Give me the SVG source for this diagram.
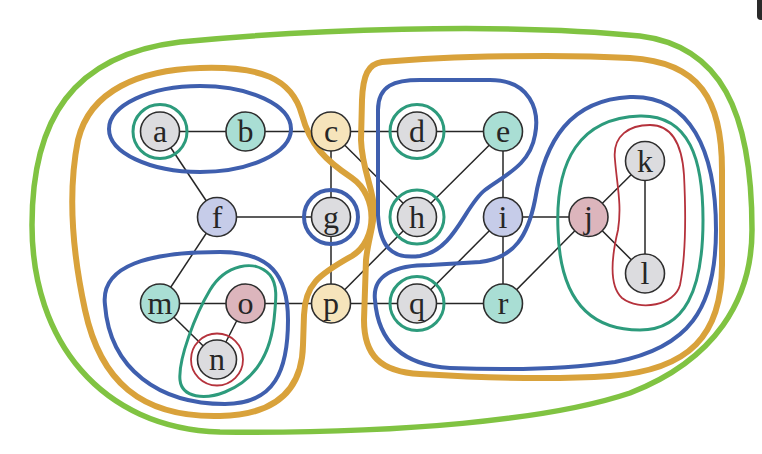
<svg xmlns="http://www.w3.org/2000/svg" width="762" height="454" viewBox="0 0 762 454">
<style>
.edge{stroke:#262626;stroke-width:1.5;fill:none}
.node circle{stroke:#2e2e2e;stroke-width:1.6}
.node text{font-family:"Liberation Serif","Times New Roman",serif;font-size:32px;fill:#262626;text-anchor:middle}
.gray{fill:#dcdcdf}.teal{fill:#a9ded4}.peach{fill:#f6e4bb}.lav{fill:#c6cce9}.pink{fill:#dcb5bc}
.hg{fill:none;stroke:#80c342;stroke-width:5.5}
.ho{fill:none;stroke:#d9a23b;stroke-width:6}
.hb{fill:none;stroke:#3f5fae;stroke-width:4}
.ht{fill:none;stroke:#2d9b7c;stroke-width:3}
.hr{fill:none;stroke:#b5323c;stroke-width:1.8}
</style>
<rect width="762" height="454" fill="#ffffff"/>
<path d="M762,0 V20 H761 Q757,20 757,16 V0 Z" fill="#2a2a2a"/>
<g id="connectors">
<line class="edge" x1="160" y1="131.5" x2="245.5" y2="131.5"/>
<line class="edge" x1="245.5" y1="131.5" x2="331" y2="131.5"/>
<line class="edge" x1="331" y1="131.5" x2="417" y2="131.5"/>
<line class="edge" x1="417" y1="131.5" x2="503" y2="131.5"/>
<line class="edge" x1="160" y1="131.5" x2="217" y2="217"/>
<line class="edge" x1="217" y1="217" x2="331" y2="217"/>
<line class="edge" x1="331" y1="131.5" x2="331" y2="217"/>
<line class="edge" x1="331" y1="131.5" x2="417" y2="217"/>
<line class="edge" x1="331" y1="217" x2="331" y2="303.5"/>
<line class="edge" x1="331" y1="303.5" x2="417" y2="217"/>
<line class="edge" x1="503" y1="131.5" x2="417" y2="217"/>
<line class="edge" x1="503" y1="131.5" x2="503" y2="217"/>
<line class="edge" x1="503" y1="217" x2="588.5" y2="217"/>
<line class="edge" x1="503" y1="217" x2="503" y2="303.5"/>
<line class="edge" x1="503" y1="217" x2="417" y2="303.5"/>
<line class="edge" x1="588.5" y1="217" x2="503" y2="303.5"/>
<line class="edge" x1="588.5" y1="217" x2="645" y2="161"/>
<line class="edge" x1="588.5" y1="217" x2="645" y2="273.5"/>
<line class="edge" x1="645" y1="161" x2="645" y2="273.5"/>
<line class="edge" x1="217" y1="217" x2="160" y2="303.5"/>
<line class="edge" x1="160" y1="303.5" x2="245.5" y2="303.5"/>
<line class="edge" x1="160" y1="303.5" x2="217" y2="359.5"/>
<line class="edge" x1="245.5" y1="303.5" x2="217" y2="359.5"/>
<line class="edge" x1="245.5" y1="303.5" x2="331" y2="303.5"/>
<line class="edge" x1="331" y1="303.5" x2="417" y2="303.5"/>
<line class="edge" x1="417" y1="303.5" x2="503" y2="303.5"/>
</g>
<g id="hulls">
<path class="hg" d="M32,225 C32,120 72,55 180,42 C300,30 500,22 640,36 C720,46 752,110 752,230 C752,300 715,360 630,393 C550,420 400,434 220,432 C100,428 32,340 32,225 Z"/>
<path class="ho" d="M220,416 C140,418 100,380 85,310 C72,250 68,190 78,140 C90,90 140,70 200,68 C260,66 292,78 302,115 C310,145 325,160 352,178 C378,196 378,240 352,256 C318,275 305,285 304,315 L303,345 C302,395 270,415 220,416 Z"/>
<path class="ho" d="M382,62 C450,56 560,54 630,58 C700,62 722,100 722,170 L722,265 C722,335 690,370 610,376 C550,380 470,377 420,374 C380,372 364,355 364,320 L366,260 C368,240 374,225 374,210 C374,190 362,170 361,140 L362,100 C363,75 368,64 382,62 Z"/>
<ellipse class="hb" cx="200" cy="129" rx="91" ry="43"/>
<circle class="hb" cx="331" cy="217" r="27"/>
<path class="hb" d="M105,305 C100,265 150,252 220,252 C270,252 288,275 288,320 C288,370 275,404 225,404 C160,404 110,370 105,305 Z"/>
<path class="hb" d="M378,110 C378,85 395,80 420,80 L490,80 C530,80 540,110 535,135 C530,165 505,175 485,190 C465,205 455,250 420,256 C390,260 380,245 378,215 Z"/>
<path class="hb" d="M375,300 C372,275 395,265 430,265 L480,262 C515,258 528,235 535,200 C545,140 570,100 630,97 C690,95 716,150 716,230 C716,310 688,348 615,362 C560,370 500,370 450,368 C400,365 378,340 375,300 Z"/>
<circle class="ht" cx="160" cy="131.5" r="27"/>
<circle class="ht" cx="417" cy="131.5" r="27"/>
<circle class="ht" cx="417" cy="217" r="27"/>
<circle class="ht" cx="417" cy="303.5" r="27"/>
<path class="ht" d="M270,275 C255,258 225,265 210,290 C195,315 178,360 180,380 C182,398 205,400 225,392 C255,380 270,355 274,320 C276,300 278,285 270,275 Z"/>
<path class="ht" d="M558,230 C555,160 580,118 640,116 C690,115 703,160 703,220 C703,290 685,330 640,330 C590,330 560,300 558,230 Z"/>
<circle class="hr" cx="217" cy="359.5" r="26"/>
<path class="hr" d="M615,160 C612,135 630,125 650,125 C672,125 682,145 684,175 C686,215 686,255 680,285 C675,305 640,312 622,298 C608,285 612,255 618,230 C622,205 617,185 615,160 Z"/>
</g>
<g id="node-a" class="node"><circle class="gray" cx="160" cy="131.5" r="19.5"/><text x="160" y="142">a</text></g>
<g id="node-b" class="node"><circle class="teal" cx="245.5" cy="131.5" r="19.5"/><text x="245.5" y="142">b</text></g>
<g id="node-c" class="node"><circle class="peach" cx="331" cy="131.5" r="19.5"/><text x="331" y="142">c</text></g>
<g id="node-d" class="node"><circle class="gray" cx="417" cy="131.5" r="19.5"/><text x="417" y="142">d</text></g>
<g id="node-e" class="node"><circle class="teal" cx="503" cy="131.5" r="19.5"/><text x="503" y="142">e</text></g>
<g id="node-f" class="node"><circle class="lav" cx="217" cy="217" r="19.5"/><text x="217" y="227.5">f</text></g>
<g id="node-g" class="node"><circle class="gray" cx="331" cy="217" r="19.5"/><text x="331" y="227.5">g</text></g>
<g id="node-h" class="node"><circle class="gray" cx="417" cy="217" r="19.5"/><text x="417" y="227.5">h</text></g>
<g id="node-i" class="node"><circle class="lav" cx="503" cy="217" r="19.5"/><text x="503" y="227.5">i</text></g>
<g id="node-j" class="node"><circle class="pink" cx="588.5" cy="217" r="19.5"/><text x="588.5" y="227.5">j</text></g>
<g id="node-k" class="node"><circle class="gray" cx="645" cy="161" r="19.5"/><text x="645" y="171.5">k</text></g>
<g id="node-l" class="node"><circle class="gray" cx="645" cy="273.5" r="19.5"/><text x="645" y="284">l</text></g>
<g id="node-m" class="node"><circle class="teal" cx="160" cy="303.5" r="19.5"/><text x="160" y="314">m</text></g>
<g id="node-n" class="node"><circle class="gray" cx="217" cy="359.5" r="19.5"/><text x="217" y="370">n</text></g>
<g id="node-o" class="node"><circle class="pink" cx="245.5" cy="303.5" r="19.5"/><text x="245.5" y="314">o</text></g>
<g id="node-p" class="node"><circle class="peach" cx="331" cy="303.5" r="19.5"/><text x="331" y="314">p</text></g>
<g id="node-q" class="node"><circle class="gray" cx="417" cy="303.5" r="19.5"/><text x="417" y="314">q</text></g>
<g id="node-r" class="node"><circle class="teal" cx="503" cy="303.5" r="19.5"/><text x="503" y="314">r</text></g>
</svg>
